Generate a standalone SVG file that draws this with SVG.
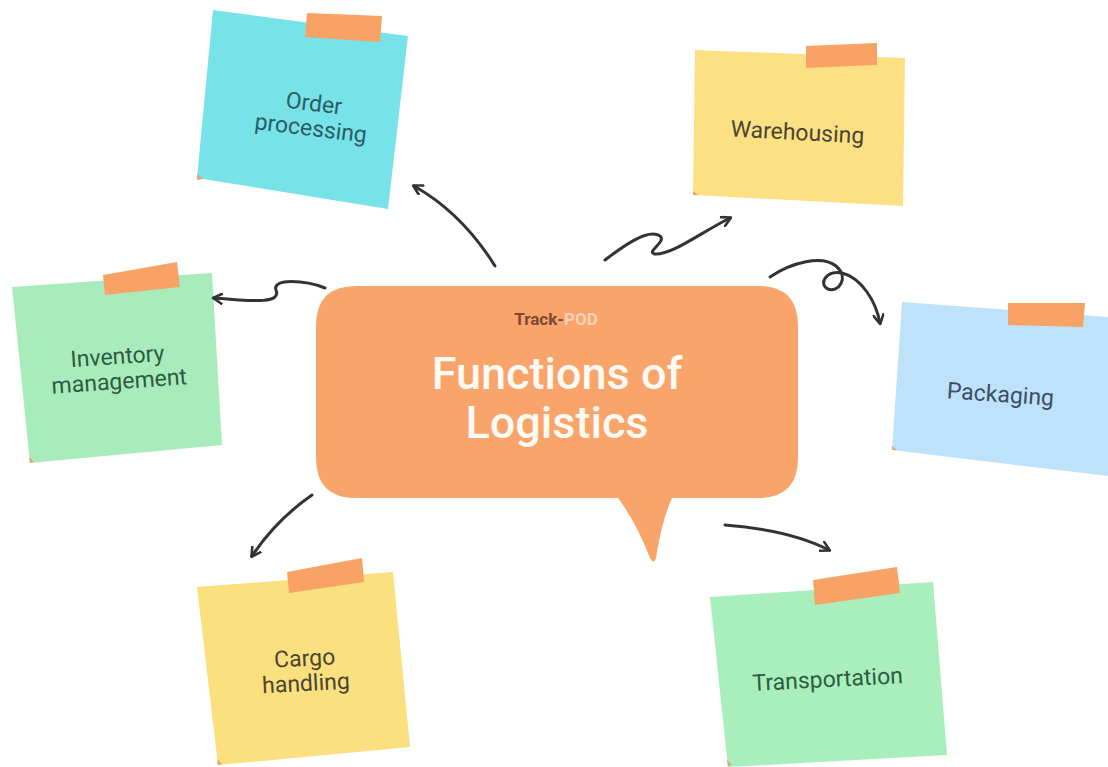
<svg xmlns="http://www.w3.org/2000/svg" width="1108" height="767" viewBox="0 0 1108 767">
<defs>
<style>
.note-text{font-family:Roboto,"Liberation Sans",sans-serif;font-size:23px;font-weight:400;text-anchor:middle}
.tape{fill:#f8a266}
.conn{fill:none;stroke:#333;stroke-width:3;stroke-linecap:round;stroke-linejoin:round}
.title{font-family:Roboto,"Liberation Sans",sans-serif;font-size:45px;font-weight:500;fill:#fffaf3;text-anchor:middle}
.curl{fill:#e8a07a}
</style>
<marker id="arrow" viewBox="0 0 12 12" refX="9" refY="6" markerWidth="12" markerHeight="12" markerUnits="userSpaceOnUse" orient="auto">
<path d="M1,1 L10,6 L1,11" fill="none" stroke="#333" stroke-width="2.6" stroke-linecap="round" stroke-linejoin="round"/>
</marker>
</defs>
<rect width="1108" height="767" fill="#ffffff"/>

<g id="order-processing">
<polygon points="213,10 408,36 388,209 197,178" fill="#77e3e8"/>
<polygon points="197,174 203,179 197,180" class="curl"/>
<polygon class="tape" points="307,13 382,16 380,42 305,37"/>
<text class="note-text" fill="#2b5d66" transform="translate(313,111) rotate(7)"><tspan x="0" y="0">Order</tspan><tspan x="0" y="25">processing</tspan></text>
</g>

<g id="warehousing">
<polygon points="695,50 905,58 903,206 693,195" fill="#fbe183"/>
<polygon points="693,191 698,195 693,195" class="curl"/>
<polygon class="tape" points="806,46 877,43 877,65 806,68"/>
<text class="note-text" fill="#4b4532" font-size="25" transform="translate(797,140) rotate(3)" x="0" y="0">Warehousing</text>
</g>

<g id="inventory-management">
<polygon points="12,287 212,273 222,445 30,463" fill="#a8ecbc"/>
<polygon points="29,457 34,462 30,463" class="curl"/>
<polygon class="tape" points="103,275 177,262 180,287 105,295"/>
<text class="note-text" fill="#2e5c3f" transform="translate(118,364) rotate(-4)"><tspan x="0" y="0">Inventory</tspan><tspan x="0" y="25">management</tspan></text>
</g>

<g id="packaging">
<polygon points="902,302 1108,317 1108,476 892,450" fill="#bfe2fb"/>
<polygon points="892,446 897,450 892,450" class="curl"/>
<polygon class="tape" points="1008,303 1085,303 1083,327 1008,325"/>
<text class="note-text" fill="#3b4f66" font-size="24" transform="translate(1000,402) rotate(4)" x="0" y="0">Packaging</text>
</g>

<g id="cargo-handling">
<polygon points="197,587 393,572 410,747 218,765" fill="#fbe07f"/>
<polygon points="217,759 222,764 218,765" class="curl"/>
<polygon class="tape" points="287,572 362,558 364,582 289,593"/>
<text class="note-text" fill="#4b4532" transform="translate(305,666) rotate(-3)"><tspan x="0" y="0">Cargo</tspan><tspan x="0" y="25">handling</tspan></text>
</g>

<g id="transportation">
<polygon points="710,597 933,582 947,755 728,767" fill="#a8efbb"/>
<polygon points="727,760 732,765 728,766" class="curl"/>
<polygon class="tape" points="813,580 897,567 900,593 815,605"/>
<text class="note-text" fill="#2e5c3f" transform="translate(828,687) rotate(-3)" x="0" y="0">Transportation</text>
</g>

<g id="center">
<path d="M356,286 H758 Q798,286 798,326 V458 Q798,498 758,498 H672 Q662,520 656,558 Q654,565 650,558 Q636,522 618,498 H356 Q316,498 316,458 V326 Q316,286 356,286 Z" fill="#f9a46b"/>
<text font-family="Roboto,'Liberation Sans',sans-serif" font-size="17" font-weight="700" text-anchor="middle" x="556" y="325"><tspan fill="#7b4a33">Track-</tspan><tspan fill="#fcd2b4">POD</tspan></text>
<text class="title" x="557" y="389">Functions of</text>
<text class="title" x="557" y="438">Logistics</text>
</g>

<g id="connectors">
<path class="conn" marker-end="url(#arrow)" d="M495,266 Q462,213 414,186"/>
<path class="conn" marker-end="url(#arrow)" d="M325,288 C305,280 272,278 276,290 C281,303 258,302 214,298"/>
<path class="conn" marker-end="url(#arrow)" d="M605,260 C622,247 648,228 660,236 C667,242 645,252 655,254 C672,255 700,233 730,218"/>
<path class="conn" marker-end="url(#arrow)" d="M770,277 C792,262 822,255 836,266 C850,278 838,293 828,289 C818,284 826,270 842,273 C862,278 876,302 880,323"/>
<path class="conn" marker-end="url(#arrow)" d="M312,495 Q276,520 252,556"/>
<path class="conn" marker-end="url(#arrow)" d="M725,525 Q790,530 829,550"/>
</g>
</svg>
